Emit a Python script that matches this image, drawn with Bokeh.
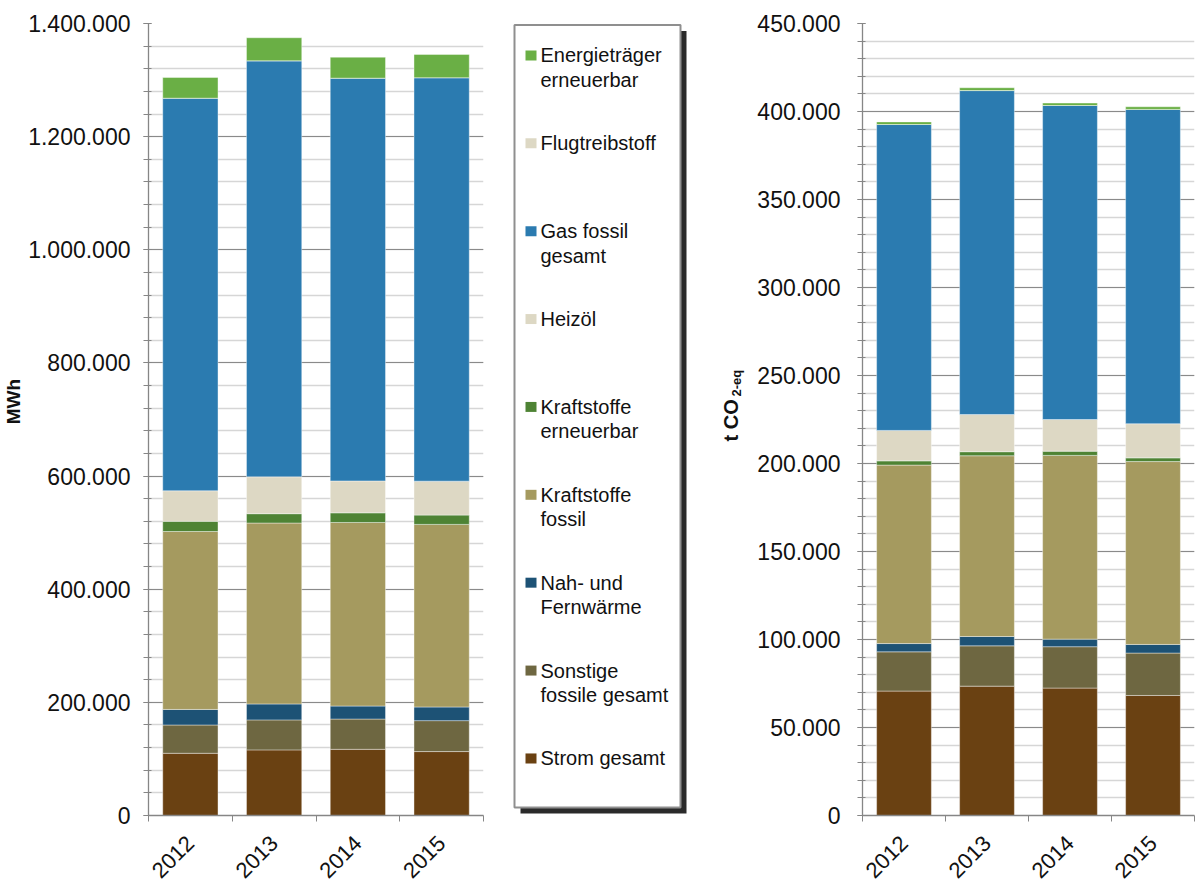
from math import pi
from bokeh.plotting import figure
from bokeh.layouts import row
from bokeh.models import (ColumnDataSource, Range1d, FixedTicker,
                          CustomJSTickFormatter)
from bokeh.core.properties import value
from bokeh.embed import file_html
from bokeh.resources import INLINE

# ---------------- data ----------------
years = ["2012", "2013", "2014", "2015"]

# stack order: bottom -> top
keys = ["strom", "sonstige", "nah", "kf_fossil", "kf_ern", "heizoel", "gas", "flug", "et_ern"]
colors = ["#6A4112", "#6E6741", "#1D5275", "#A59A5F", "#4E8334",
          "#DDD8C4", "#2B7BB0", "#DDD8C4", "#6AAF45"]

# MWh
strom_mwh = [110000, 116000, 117000, 113000]
sonstige_mwh = [50000, 53000, 53500, 54700]
nah_mwh = [27500, 28200, 23000, 24100]
kf_fossil_mwh = [314500, 319800, 324500, 322800]
kf_ern_mwh = [18000, 16500, 17000, 16400]
heizoel_mwh = [54000, 65200, 56400, 60000]
gas_mwh = [694000, 735400, 712000, 713200]
flug_mwh = [0, 0, 0, 0]
et_ern_mwh = [36500, 40700, 37000, 41100]

# t CO2-eq
strom_co2 = [70700, 73500, 72400, 68200]
sonstige_co2 = [22300, 22900, 23500, 24100]
nah_co2 = [4700, 5300, 4300, 4900]
kf_fossil_co2 = [101400, 102700, 104400, 103900]
kf_ern_co2 = [2400, 2300, 2400, 2100]
heizoel_co2 = [17300, 21100, 18000, 19400]
gas_co2 = [173800, 184100, 178400, 178600]
flug_co2 = [0, 0, 0, 0]
et_ern_co2 = [1500, 1600, 1400, 1500]

# legend (top -> bottom)
legend_labels = ["Energieträger\nerneuerbar", "Flugtreibstoff", "Gas fossil\ngesamt",
                 "Heizöl", "Kraftstoffe\nerneuerbar", "Kraftstoffe\nfossil",
                 "Nah- und\nFernwärme", "Sonstige\nfossile gesamt", "Strom gesamt"]
legend_colors = ["#6AAF45", "#DDD8C4", "#2B7BB0", "#DDD8C4", "#4E8334",
                 "#A59A5F", "#1D5275", "#6E6741", "#6A4112"]

left_title = "MWh"
right_title_main, right_title_sub = "t CO", "2-eq"

left_ticks_major, left_ticks_minor, left_max = 200000, 40000, 1400000
right_ticks_major, right_ticks_minor, right_max = 50000, 10000, 450000

FONT = "Liberation Sans"
H = 887
TOP, BOTTOM = 23, 70
FRAME_H = H - TOP - BOTTOM          # plot frames are aligned across the row


def fy(y_px):
    """page pixel row -> data y inside the aligned frame of a blank panel"""
    return (H - BOTTOM) - y_px


fmt_js = """
const s = Math.round(tick).toString();
return s.replace(/\\B(?=(\\d{3})+(?!\\d))/g, ".");
"""


def blank(width):
    f = figure(width=width, height=H, x_range=Range1d(0, width),
               y_range=Range1d(0, FRAME_H), output_backend="svg",
               toolbar_location=None, min_border_left=0, min_border_right=0,
               min_border_top=TOP, min_border_bottom=BOTTOM)
    f.axis.visible = False
    f.grid.visible = False
    f.outline_line_color = None
    return f


def make_chart(vals, ymax, major, minor, frame_left, frame_w, width, standoff, fsize):
    data = dict(x=[i + 0.5 for i in range(len(years))])
    for k, v in zip(keys, vals):
        data[k] = v
    src = ColumnDataSource(data)
    p = figure(width=width, height=H, x_range=Range1d(0, len(years)),
               y_range=Range1d(0, ymax), output_backend="svg",
               toolbar_location=None,
               min_border_left=frame_left,
               min_border_right=width - frame_left - frame_w,
               min_border_top=TOP, min_border_bottom=BOTTOM)
    p.outline_line_color = None
    p.vbar_stack(keys, x="x", width=0.66, color=colors, source=src,
                 line_color="white", line_alpha=0.4, line_width=1)

    # x axis
    xt = FixedTicker(ticks=[i + 0.5 for i in range(len(years))],
                     minor_ticks=list(range(len(years) + 1)))
    p.xaxis.ticker = xt
    p.xaxis.formatter = CustomJSTickFormatter(args=dict(labels=years),
                                              code="return labels[Math.floor(tick)];")
    p.xaxis.major_label_orientation = pi / 4
    p.xaxis.major_tick_in = 0
    p.xaxis.major_tick_out = 0
    p.xaxis.minor_tick_in = 0
    p.xaxis.minor_tick_out = 6
    p.xaxis.major_label_standoff = 18
    p.xgrid.visible = False

    # y axis
    yt = FixedTicker(ticks=list(range(0, ymax + 1, major)),
                     minor_ticks=list(range(0, ymax + 1, minor)))
    p.yaxis.ticker = yt
    p.ygrid.ticker = yt
    p.yaxis.formatter = CustomJSTickFormatter(code=fmt_js)
    p.yaxis.major_tick_in = 3
    p.yaxis.major_tick_out = 5
    p.yaxis.minor_tick_in = 3
    p.yaxis.minor_tick_out = 5
    p.yaxis.major_label_standoff = standoff
    p.ygrid.grid_line_color = "#8a8a8a"
    p.ygrid.grid_line_width = 1.2
    p.ygrid.minor_grid_line_color = "#d6d6d6"
    p.ygrid.minor_grid_line_width = 1.5

    for ax in (p.xaxis[0], p.yaxis[0]):
        ax.axis_line_color = "#868686"
        ax.axis_line_width = 1.3
        ax.major_tick_line_color = "#868686"
        ax.minor_tick_line_color = "#868686"
        ax.major_label_text_font = FONT
        ax.major_label_text_color = "#111111"
    p.yaxis.major_label_text_font_size = fsize
    p.xaxis.major_label_text_font_size = "22px"
    return p


# ---------------- left title panel ----------------
TW = 25
pt = blank(TW)
pt.text(x=[12.5], y=[fy(402)], text=[left_title], angle=pi / 2,
        text_font=value(FONT), text_font_style="bold", text_font_size="19px",
        text_color="#111111", text_align="center", text_baseline="middle")

# ---------------- left chart ----------------
p1 = make_chart([strom_mwh, sonstige_mwh, nah_mwh, kf_fossil_mwh, kf_ern_mwh,
                 heizoel_mwh, gas_mwh, flug_mwh, et_ern_mwh],
                left_max, left_ticks_major, left_ticks_minor,
                frame_left=145 - TW, frame_w=338, width=495 - TW,
                standoff=13, fsize="23px")

# ---------------- legend panel (+ right title) ----------------
LX0, LW = 495, 254
pl = blank(LW)
box_l, box_r, box_t, box_b = 514 - LX0, 680 - LX0, fy(24.5), fy(809)
pl.quad(left=box_l + 6, right=box_r + 6, top=box_t - 6, bottom=box_b - 6,
        fill_color="#2a2a2a", line_color=None)
pl.quad(left=box_l, right=box_r, top=box_t, bottom=box_b,
        fill_color="white", line_color="#8f8f8f", line_width=2)

first_y, step = 55, 88.1
key_x, key_w, key_h, text_x, line_h = 525 - LX0, 11, 10, 540 - LX0, 24.5
sq = dict(left=[], right=[], top=[], bottom=[], color=[])
tx = dict(x=[], y=[], text=[])
for i, (lab, col) in enumerate(zip(legend_labels, legend_colors)):
    y0 = fy(first_y + step * i)
    sq["left"].append(key_x)
    sq["right"].append(key_x + key_w)
    sq["top"].append(y0 + key_h / 2)
    sq["bottom"].append(y0 - key_h / 2)
    sq["color"].append(col)
    for j, line in enumerate(lab.split("\n")):
        tx["x"].append(text_x)
        tx["y"].append(y0 - line_h * j)
        tx["text"].append(line)
pl.quad(left="left", right="right", top="top", bottom="bottom",
        fill_color="color", line_color=None, source=ColumnDataSource(sq))
pl.text(x="x", y="y", text="text", source=ColumnDataSource(tx),
        text_font=value(FONT), text_font_size="20px", text_color="#111111",
        text_baseline="middle", text_align="left")

pl.text(x=[730 - LX0], y=[fy(442)], text=[right_title_main], angle=pi / 2,
        text_font=value(FONT), text_font_style="bold", text_font_size="20px",
        text_color="#111111", text_align="left", text_baseline="middle")
pl.text(x=[736 - LX0], y=[fy(397)], text=[right_title_sub], angle=pi / 2,
        text_font=value(FONT), text_font_style="bold", text_font_size="13px",
        text_color="#111111", text_align="left", text_baseline="middle")

# ---------------- right chart ----------------
RX0 = LX0 + LW
p2 = make_chart([strom_co2, sonstige_co2, nah_co2, kf_fossil_co2, kf_ern_co2,
                 heizoel_co2, gas_co2, flug_co2, et_ern_co2],
                right_max, right_ticks_major, right_ticks_minor,
                frame_left=862 - RX0, frame_w=332, width=1195 - RX0,
                standoff=17, fsize="23px")

layout = row(pt, p1, pl, p2, spacing=0)
open("out.html", "w").write(file_html(layout, INLINE))
